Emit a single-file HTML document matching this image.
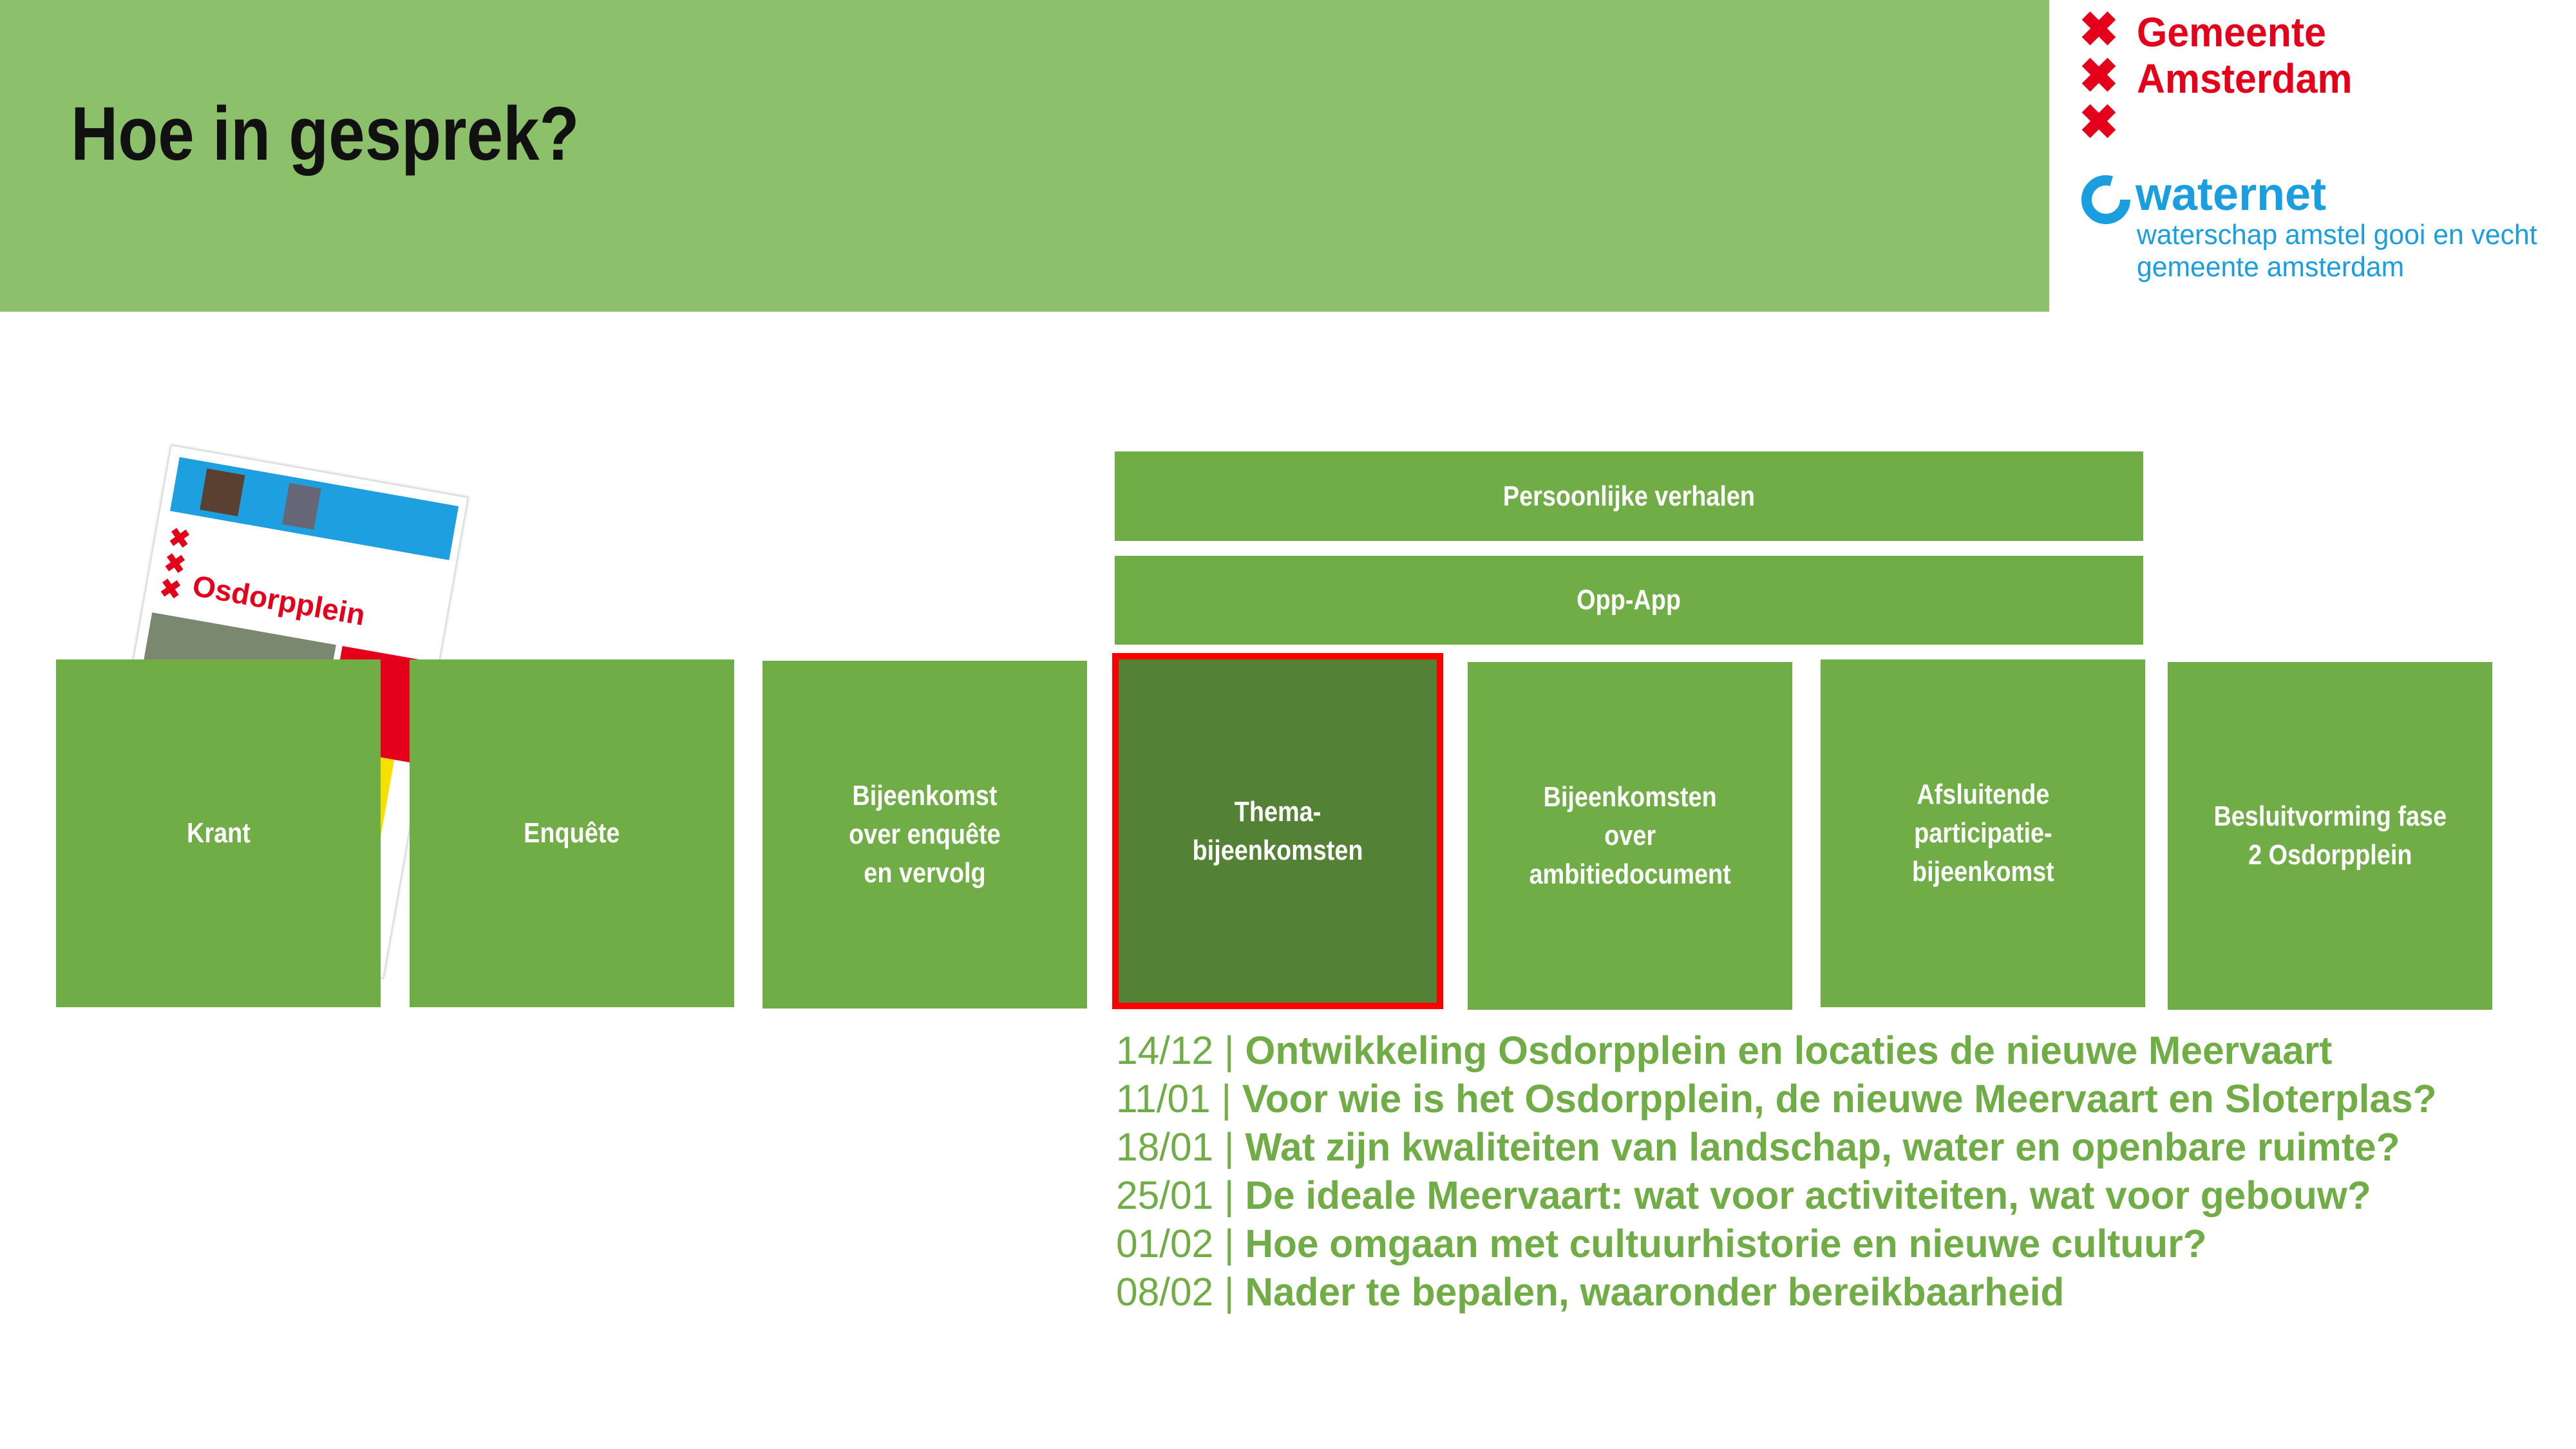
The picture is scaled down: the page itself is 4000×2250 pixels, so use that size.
<!DOCTYPE html>
<html><head><meta charset="utf-8"><style>
*{margin:0;padding:0;box-sizing:border-box}
body{width:4000px;height:2250px;background:#fff;position:relative;overflow:hidden;font-family:"Liberation Sans",sans-serif}
.abs{position:absolute}
.box{position:absolute;background:#70ad47;color:#fff;font-weight:bold;font-size:44px;line-height:60px;display:flex;align-items:center;justify-content:center;text-align:center}
.box span{display:inline-block;transform:scaleX(0.86)}
.list{position:absolute;left:1733px;color:#70ad47;font-size:61px;white-space:nowrap;transform:scaleX(0.99);transform-origin:left center;line-height:75px}
.list b{font-weight:bold}
.list .d{font-weight:normal}
</style></head><body>
<div class="abs" style="left:0;top:0;width:3182px;height:484px;background:#8dc06a"></div>
<div class="abs" style="left:110px;top:140px;font-size:118px;font-weight:bold;color:#111;transform:scaleX(0.86);transform-origin:left top;white-space:nowrap">Hoe in gesprek?</div>

<!-- logo -->
<div class="abs" style="left:3228px;top:10px;color:#e4001b;font-size:74px;font-weight:bold;line-height:72px">✖</div>
<div class="abs" style="left:3228px;top:82px;color:#e4001b;font-size:74px;font-weight:bold;line-height:72px">✖</div>
<div class="abs" style="left:3228px;top:154px;color:#e4001b;font-size:74px;font-weight:bold;line-height:72px">✖</div>
<div class="abs" style="left:3318px;top:14px;color:#e4001b;font-size:64px;line-height:72px;font-weight:bold;transform:scaleX(0.95);transform-origin:left top">Gemeente<br>Amsterdam</div>
<svg class="abs" style="left:3230px;top:270px" width="80" height="80" viewBox="0 0 80 80"><circle cx="40" cy="40" r="30" fill="none" stroke="#1a9ee0" stroke-width="16" stroke-dasharray="150 40"/></svg>
<div class="abs" style="left:3316px;top:262px;color:#1a9ee0;font-size:72px;font-weight:bold;line-height:80px">waternet</div>
<div class="abs" style="left:3318px;top:340px;color:#1a9ee0;font-size:44px;line-height:50px;white-space:nowrap;transform:scaleX(0.97);transform-origin:left top">waterschap amstel gooi en vecht<br>gemeente amsterdam</div>

<!-- newspaper -->
<div class="abs" style="left:265px;top:690px;width:470px;height:760px;background:#fff;border:2px solid #ddd;transform:rotate(10deg);transform-origin:left top;box-shadow:0 0 4px #ccc">
 <div class="abs" style="left:15px;top:15px;width:440px;height:85px;background:#1ea0e0"></div>
 <div class="abs" style="left:60px;top:25px;width:60px;height:65px;background:#5a4030"></div>
 <div class="abs" style="left:190px;top:25px;width:50px;height:65px;background:#667"></div>
 <div class="abs" style="left:20px;top:120px;color:#e4001b;font-size:40px;font-weight:bold;line-height:40px">✖<br>✖<br>✖</div>
 <div class="abs" style="left:70px;top:180px;color:#e4001b;font-size:46px;font-weight:bold">Osdorpplein</div>
 <div class="abs" style="left:15px;top:260px;width:290px;height:260px;background:#7b8870"></div>
 <div class="abs" style="left:315px;top:260px;width:140px;height:160px;background:#e4001b"></div>
 <div class="abs" style="left:345px;top:420px;width:80px;height:280px;background:#f5e000"></div>
</div>

<!-- bars -->
<div class="box" style="left:1731px;top:701px;width:1597px;height:139px"><span>Persoonlijke verhalen</span></div>
<div class="box" style="left:1731px;top:863px;width:1597px;height:138px"><span>Opp-App</span></div>

<!-- boxes -->
<div class="box" style="left:87px;top:1024px;width:504px;height:540px"><span>Krant</span></div>
<div class="box" style="left:636px;top:1024px;width:504px;height:540px"><span>Enquête</span></div>
<div class="box" style="left:1184px;top:1026px;width:504px;height:540px"><span>Bijeenkomst<br>over enquête<br>en vervolg</span></div>
<div class="box" style="left:1727px;top:1014px;width:514px;height:553px;background:#538135;border:10px solid #f00"><span>Thema-<br>bijeenkomsten</span></div>
<div class="box" style="left:2279px;top:1028px;width:504px;height:540px"><span>Bijeenkomsten<br>over<br>ambitiedocument</span></div>
<div class="box" style="left:2827px;top:1024px;width:504px;height:540px"><span>Afsluitende<br>participatie-<br>bijeenkomst</span></div>
<div class="box" style="left:3366px;top:1028px;width:504px;height:540px"><span>Besluitvorming fase<br>2 Osdorpplein</span></div>

<!-- list -->
<div class="list" style="top:1594px"><span class="d">14/12 | </span><b>Ontwikkeling Osdorpplein en locaties de nieuwe Meervaart</b></div>
<div class="list" style="top:1669px"><span class="d">11/01 | </span><b>Voor wie is het Osdorpplein, de nieuwe Meervaart en Sloterplas?</b></div>
<div class="list" style="top:1744px"><span class="d">18/01 | </span><b>Wat zijn kwaliteiten van landschap, water en openbare ruimte?</b></div>
<div class="list" style="top:1819px"><span class="d">25/01 | </span><b>De ideale Meervaart: wat voor activiteiten, wat voor gebouw?</b></div>
<div class="list" style="top:1894px"><span class="d">01/02 | </span><b>Hoe omgaan met cultuurhistorie en nieuwe cultuur?</b></div>
<div class="list" style="top:1969px"><span class="d">08/02 | </span><b>Nader te bepalen, waaronder bereikbaarheid</b></div>
</body></html>
